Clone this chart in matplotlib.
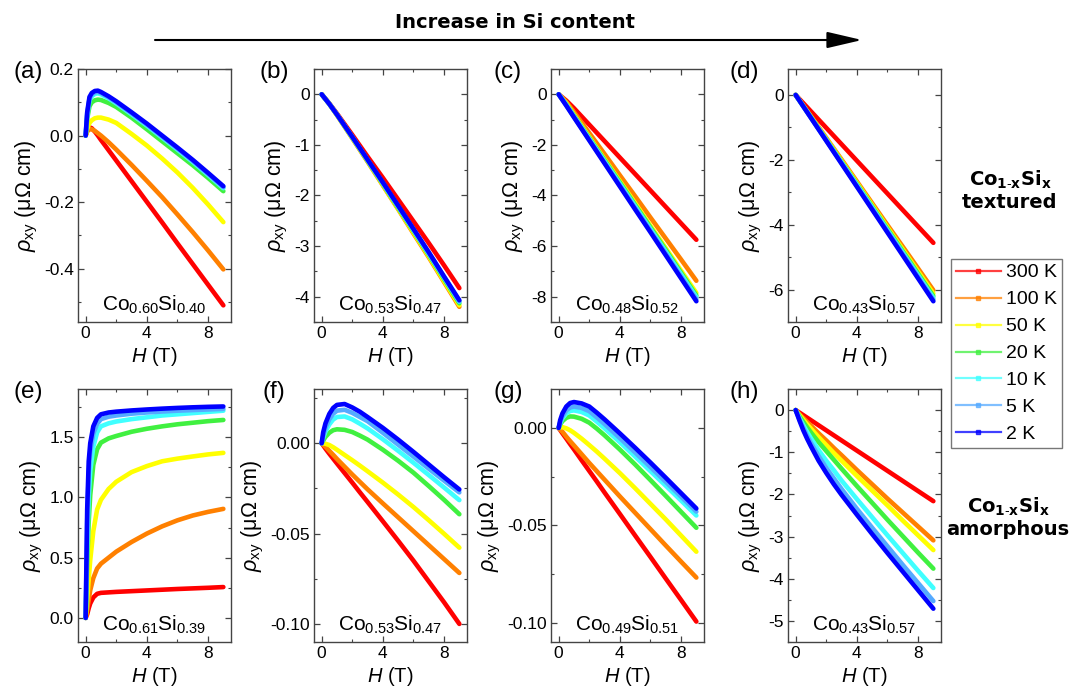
import matplotlib
matplotlib.use('Agg')
import matplotlib.pyplot as plt
from matplotlib.ticker import MultipleLocator, AutoMinorLocator, FuncFormatter
from matplotlib.lines import Line2D
from matplotlib.patches import FancyArrowPatch

plt.rcParams['font.family'] = 'Liberation Sans'
plt.rcParams['mathtext.fontset'] = 'custom'
plt.rcParams['mathtext.rm'] = 'Liberation Sans'
plt.rcParams['mathtext.it'] = 'Liberation Sans:italic'
plt.rcParams['mathtext.bf'] = 'DejaVu Sans:bold'
plt.rcParams['axes.unicode_minus'] = False

temps = ['300 K', '100 K', '50 K', '20 K', '10 K', '5 K', '2 K']
colors = ['#ff0000', '#ff8000', '#ffff00', '#40f040', '#40ffff', '#55aaff', '#0000ff']

# field grids (T) and rho_xy curves (uOhm cm), ordered 300 K ... 2 K
h_a = [0, 0.1, 0.25, 0.4, 0.6, 0.8, 1, 1.5, 2, 3, 4, 5, 6, 7, 8, 9]
rho_a = [
    [0, 0.015, 0.025, 0.022, 0.012, 0.0, -0.013, -0.044, -0.075, -0.137, -0.199, -0.261, -0.324, -0.386, -0.448, -0.51],
    [0, 0.012, 0.020, 0.019, 0.014, 0.007, 0.0, -0.020, -0.042, -0.088, -0.136, -0.185, -0.237, -0.290, -0.345, -0.402],
    [0, 0.020, 0.038, 0.046, 0.052, 0.054, 0.054, 0.048, 0.038, 0.005, -0.030, -0.069, -0.111, -0.157, -0.207, -0.26],
    [0, 0.050, 0.088, 0.100, 0.106, 0.108, 0.107, 0.098, 0.086, 0.054, 0.019, -0.017, -0.053, -0.089, -0.127, -0.167],
    [0, 0.060, 0.106, 0.118, 0.125, 0.127, 0.124, 0.112, 0.097, 0.064, 0.030, -0.006, -0.042, -0.079, -0.118, -0.158],
    [0, 0.065, 0.111, 0.123, 0.130, 0.131, 0.128, 0.115, 0.100, 0.067, 0.033, -0.003, -0.039, -0.076, -0.115, -0.155],
    [0, 0.070, 0.116, 0.128, 0.134, 0.135, 0.131, 0.118, 0.103, 0.070, 0.036, 0.0, -0.036, -0.073, -0.112, -0.152],
]

h_b = [0, 0.5, 1, 2, 3, 4, 5, 6, 7, 8, 9]
rho_b = [
    [0, -0.18, -0.38, -0.80, -1.23, -1.65, -2.08, -2.51, -2.94, -3.38, -3.83],
    [0, -0.19, -0.41, -0.87, -1.33, -1.80, -2.27, -2.75, -3.22, -3.71, -4.20],
    [0, -0.19, -0.41, -0.86, -1.32, -1.79, -2.26, -2.73, -3.20, -3.69, -4.17],
    [0, -0.19, -0.40, -0.85, -1.31, -1.77, -2.24, -2.70, -3.17, -3.65, -4.13],
    [0, -0.19, -0.40, -0.85, -1.30, -1.76, -2.22, -2.68, -3.15, -3.62, -4.10],
    [0, -0.19, -0.40, -0.84, -1.30, -1.75, -2.21, -2.67, -3.14, -3.61, -4.09],
    [0, -0.19, -0.40, -0.84, -1.29, -1.74, -2.20, -2.66, -3.12, -3.60, -4.07],
]

h_c = [0, 0.5, 1, 2, 3, 4, 5, 6, 7, 8, 9]
rho_c = [
    [0, -0.25, -0.55, -1.20, -1.85, -2.50, -3.15, -3.80, -4.45, -5.10, -5.75],
    [0, -0.30, -0.70, -1.53, -2.36, -3.20, -4.03, -4.87, -5.70, -6.53, -7.37],
    [0, -0.36, -0.80, -1.68, -2.56, -3.43, -4.30, -5.20, -6.08, -6.97, -7.85],
    [0, -0.39, -0.84, -1.72, -2.60, -3.48, -4.37, -5.26, -6.15, -7.05, -7.95],
    [0, -0.41, -0.87, -1.76, -2.65, -3.54, -4.43, -5.33, -6.22, -7.12, -8.02],
    [0, -0.43, -0.89, -1.79, -2.69, -3.59, -4.49, -5.39, -6.29, -7.20, -8.10],
    [0, -0.45, -0.91, -1.82, -2.73, -3.64, -4.55, -5.45, -6.36, -7.27, -8.18],
]

h_d = [0, 1.5, 3, 4.5, 6, 7.5, 9]
rho_d = [
    [0, -0.76, -1.52, -2.28, -3.04, -3.80, -4.56],
    [0, -0.99, -1.99, -3.00, -4.01, -5.01, -6.02],
    [0, -1.01, -2.03, -3.05, -4.08, -5.10, -6.12],
    [0, -1.03, -2.06, -3.09, -4.13, -5.16, -6.20],
    [0, -1.04, -2.08, -3.12, -4.17, -5.21, -6.26],
    [0, -1.05, -2.10, -3.15, -4.20, -5.25, -6.31],
    [0, -1.06, -2.12, -3.18, -4.24, -5.30, -6.36],
]

h_e = [0, 0.1, 0.2, 0.3, 0.5, 0.75, 1, 1.5, 2, 3, 4, 5, 6, 7, 8, 9]
rho_e = [
    [0, 0.03, 0.08, 0.12, 0.17, 0.20, 0.208, 0.212, 0.216, 0.222, 0.228, 0.234, 0.240, 0.245, 0.250, 0.256],
    [0, 0.07, 0.15, 0.23, 0.33, 0.41, 0.45, 0.50, 0.55, 0.63, 0.70, 0.76, 0.81, 0.85, 0.88, 0.905],
    [0, 0.15, 0.32, 0.48, 0.72, 0.90, 0.98, 1.07, 1.13, 1.21, 1.26, 1.30, 1.322, 1.34, 1.357, 1.37],
    [0, 0.45, 0.80, 1.02, 1.27, 1.40, 1.455, 1.49, 1.51, 1.545, 1.57, 1.59, 1.607, 1.62, 1.633, 1.643],
    [0, 0.60, 1.00, 1.22, 1.42, 1.54, 1.59, 1.615, 1.63, 1.65, 1.665, 1.68, 1.69, 1.70, 1.71, 1.72],
    [0, 0.80, 1.20, 1.38, 1.53, 1.61, 1.65, 1.67, 1.68, 1.695, 1.705, 1.713, 1.72, 1.725, 1.73, 1.735],
    [0, 0.90, 1.30, 1.45, 1.59, 1.66, 1.69, 1.705, 1.712, 1.722, 1.73, 1.737, 1.743, 1.748, 1.752, 1.755],
]

h_f = [0, 0.1, 0.25, 0.5, 0.75, 1, 1.5, 2, 2.5, 3, 4, 5, 6, 7, 8, 9]
rho_f = [
    [0, -0.0012, -0.003, -0.0058, -0.0085, -0.0112, -0.0165, -0.0218, -0.0272, -0.0325, -0.0432, -0.054, -0.065, -0.0765, -0.088, -0.100],
    [0, -0.0008, -0.002, -0.0042, -0.0064, -0.0087, -0.013, -0.0173, -0.0214, -0.0255, -0.0333, -0.041, -0.0487, -0.0564, -0.0641, -0.0718],
    [0, 0.0, -0.0003, -0.001, -0.0022, -0.0036, -0.0065, -0.0094, -0.0124, -0.0155, -0.0218, -0.0284, -0.0353, -0.0426, -0.0501, -0.0578],
    [0, 0.0015, 0.0035, 0.0058, 0.0072, 0.0077, 0.0074, 0.0062, 0.0042, 0.002, -0.0036, -0.0097, -0.0163, -0.0237, -0.0313, -0.0393],
    [0, 0.003, 0.0065, 0.0104, 0.0131, 0.0145, 0.0148, 0.0132, 0.0108, 0.0082, 0.0022, -0.0042, -0.0108, -0.0176, -0.0245, -0.0315],
    [0, 0.004, 0.0085, 0.0132, 0.0163, 0.018, 0.0185, 0.0168, 0.0145, 0.0122, 0.0058, -0.0008, -0.0074, -0.0141, -0.0207, -0.0272],
    [0, 0.006, 0.011, 0.0162, 0.0195, 0.0212, 0.0217, 0.0198, 0.0174, 0.0145, 0.0085, 0.002, -0.0048, -0.0118, -0.0188, -0.0256],
]

h_g = [0, 0.1, 0.25, 0.5, 0.75, 1, 1.5, 2, 2.5, 3, 4, 5, 6, 7, 8, 9]
rho_g = [
    [0, -0.0011, -0.0028, -0.0055, -0.0083, -0.011, -0.0166, -0.0221, -0.0276, -0.0332, -0.0442, -0.0553, -0.0663, -0.0774, -0.0884, -0.0995],
    [0, -0.0008, -0.002, -0.0045, -0.0068, -0.009, -0.0135, -0.018, -0.0223, -0.0266, -0.0352, -0.0436, -0.052, -0.0604, -0.0687, -0.0769],
    [0, 0.0003, 0.0004, -0.0002, -0.0012, -0.0025, -0.0055, -0.0088, -0.0122, -0.0158, -0.0232, -0.031, -0.039, -0.047, -0.0553, -0.0636],
    [0, 0.0018, 0.0035, 0.0052, 0.0059, 0.0058, 0.0047, 0.0027, -0.0004, -0.0038, -0.0111, -0.0188, -0.0268, -0.0349, -0.0431, -0.0513],
    [0, 0.0025, 0.005, 0.0075, 0.0087, 0.009, 0.0082, 0.0064, 0.0032, -0.0002, -0.0073, -0.0147, -0.0222, -0.0297, -0.0373, -0.045],
    [0, 0.003, 0.006, 0.009, 0.0105, 0.011, 0.0103, 0.0086, 0.0054, 0.002, -0.0052, -0.0126, -0.0201, -0.0277, -0.0353, -0.043],
    [0, 0.004, 0.0075, 0.011, 0.0128, 0.0133, 0.0126, 0.011, 0.0078, 0.0044, -0.0028, -0.0102, -0.0178, -0.0256, -0.0335, -0.0414],
]

h_h = [0, 0.25, 0.5, 0.75, 1, 1.5, 2, 2.5, 3, 4, 5, 6, 7, 8, 9]
rho_h = [
    [0, -0.06, -0.12, -0.18, -0.24, -0.36, -0.48, -0.60, -0.72, -0.96, -1.20, -1.44, -1.68, -1.92, -2.16],
    [0, -0.10, -0.19, -0.28, -0.37, -0.55, -0.72, -0.90, -1.07, -1.42, -1.76, -2.10, -2.43, -2.76, -3.09],
    [0, -0.12, -0.23, -0.34, -0.44, -0.64, -0.83, -1.02, -1.20, -1.56, -1.91, -2.26, -2.62, -2.97, -3.32],
    [0, -0.15, -0.28, -0.41, -0.53, -0.76, -0.97, -1.18, -1.39, -1.80, -2.20, -2.60, -2.99, -3.38, -3.76],
    [0, -0.19, -0.36, -0.52, -0.67, -0.95, -1.20, -1.43, -1.67, -2.11, -2.54, -2.97, -3.39, -3.81, -4.22],
    [0, -0.22, -0.42, -0.61, -0.78, -1.09, -1.37, -1.62, -1.87, -2.34, -2.79, -3.23, -3.67, -4.10, -4.53],
    [0, -0.25, -0.48, -0.68, -0.86, -1.20, -1.49, -1.76, -2.01, -2.48, -2.94, -3.39, -3.83, -4.27, -4.71],
]

compositions = [
    r'Co$_{0.60}$Si$_{0.40}$', r'Co$_{0.53}$Si$_{0.47}$', r'Co$_{0.48}$Si$_{0.52}$', r'Co$_{0.43}$Si$_{0.57}$',
    r'Co$_{0.61}$Si$_{0.39}$', r'Co$_{0.53}$Si$_{0.47}$', r'Co$_{0.49}$Si$_{0.51}$', r'Co$_{0.43}$Si$_{0.57}$',
]
panel_labels = ['(a)', '(b)', '(c)', '(d)', '(e)', '(f)', '(g)', '(h)']

panels = [
    # field, curves, ylim, major step, decimals
    (h_a, rho_a, (-0.56, 0.2), 0.2, 1),
    (h_b, rho_b, (-4.5, 0.5), 1, 0),
    (h_c, rho_c, (-9, 1), 2, 0),
    (h_d, rho_d, (-7, 0.8), 2, 0),
    (h_e, rho_e, (-0.2, 1.9), 0.5, 1),
    (h_f, rho_f, (-0.11, 0.03), 0.05, 2),
    (h_g, rho_g, (-0.11, 0.02), 0.05, 2),
    (h_h, rho_h, (-5.5, 0.5), 1, 0),
]

W, Hpx = 1072, 696
col_left = [78, 314, 551, 788]
row_top = [69, 389]
ax_w, ax_h = 153, 253
label_x = [28, 274, 508, 744]
label_y = [72, 392]


def tick_fmt(nd):
    def f(v, pos):
        s = f'{v:.{nd}f}'
        if float(s) == 0:
            s = s.lstrip('-')
        return s
    return FuncFormatter(f)


fig = plt.figure(figsize=(W / 100, Hpx / 100), dpi=100)

for i, (h, curves, ylim, step, nd) in enumerate(panels):
    r, c = divmod(i, 4)
    ax = fig.add_axes([col_left[c] / W, 1 - (row_top[r] + ax_h) / Hpx, ax_w / W, ax_h / Hpx])
    for rho, col in zip(curves, colors):
        ax.plot(h, rho, color=col, lw=3.3, solid_capstyle='round', solid_joinstyle='round')
    ax.set_xlim(-0.5, 9.5)
    ax.set_ylim(*ylim)
    ax.xaxis.set_major_locator(MultipleLocator(4))
    ax.xaxis.set_minor_locator(MultipleLocator(2))
    ax.yaxis.set_major_locator(MultipleLocator(step))
    ax.yaxis.set_minor_locator(AutoMinorLocator(2))
    ax.yaxis.set_major_formatter(tick_fmt(nd))
    ax.tick_params(which='both', direction='in', top=True, right=True,
                   labelsize=12.5, color='#444444', pad=3)
    ax.tick_params(which='major', length=4, width=0.9)
    ax.tick_params(which='minor', length=2.5, width=0.8)
    for sp in ax.spines.values():
        sp.set_color('#444444')
        sp.set_linewidth(1.0)
    ax.set_xlabel(r'$H$ (T)', fontsize=14.5, labelpad=3)
    ax.set_ylabel(r'$\rho_{\mathrm{xy}}$ (μΩ cm)', fontsize=15.5, labelpad=3)
    ax.text(0.5, 0.045, compositions[i], transform=ax.transAxes, ha='center',
            va='baseline', fontsize=15)
    fig.text(label_x[c] / W, 1 - label_y[r] / Hpx, panel_labels[i], ha='center',
             va='center', fontsize=17.5)

handles = [Line2D([], [], color=col, lw=1.6, alpha=0.75, marker='s', markersize=2.5)
           for col in colors]
leg = fig.legend(handles, temps, loc='upper left', bbox_to_anchor=(951 / W, 1 - 259 / Hpx),
                 frameon=True, fancybox=False, edgecolor='#555555', fontsize=14,
                 handlelength=2.3, handletextpad=0.3, labelspacing=0.48,
                 borderpad=0.25, borderaxespad=0)
leg.get_frame().set_linewidth(1.0)

bold = dict(family='DejaVu Sans', fontweight='bold', fontsize=14, ha='center', va='center')
fig.text(1010 / W, 1 - 190 / Hpx, 'Co$_{\\mathbf{1\\text{-}x}}$Si$_{\\mathbf{x}}$\ntextured',
         linespacing=1.25, **bold)
fig.text(1008 / W, 1 - 517 / Hpx, 'Co$_{\\mathbf{1\\text{-}x}}$Si$_{\\mathbf{x}}$\namorphous',
         linespacing=1.25, **bold)

fig.text(515 / W, 1 - 22 / Hpx, 'Increase in Si content', family='DejaVu Sans',
         fontweight='bold', fontsize=14, ha='center', va='center')
arrow = FancyArrowPatch((155 / W, 1 - 40 / Hpx), (862 / W, 1 - 40 / Hpx),
                        transform=fig.transFigure, arrowstyle='-|>,head_length=1.8,head_width=0.42',
                        mutation_scale=12, lw=1.5, color='black', shrinkA=0, shrinkB=0)
fig.add_artist(arrow)

fig.savefig('out.png', dpi=100)
